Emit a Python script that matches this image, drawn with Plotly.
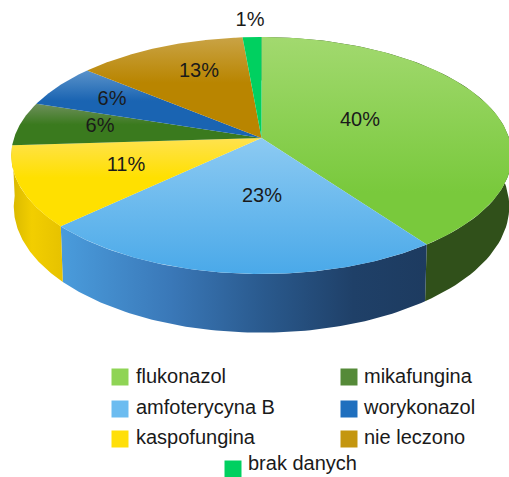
import numpy as np
import plotly.graph_objects as go

names = ["flukonazol", "amfoterycyna B", "kaspofungina", "mikafungina", "worykonazol", "nie leczono", "brak danych"]
values = [40, 23, 11, 6, 6, 12.6, 1.4]
pct_labels = ["40%", "23%", "11%", "6%", "6%", "13%", "1%"]
key_colors = ["#8fd455", "#6cbcf0", "#ffdf0a", "#558a38", "#1f6fbe", "#c4960f", "#00d060"]
top_grad = [
    ["#a2d96f", "#79c93c"],
    ["#8ccaf2", "#4aa9e9"],
    ["#ffe24f", "#ffe000"],
    ["#6f8f5c", "#3a7a1e"],
    ["#5b93ca", "#1a64b2"],
    ["#c9a345", "#b98500"],
    ["#00d060", "#00d060"],
]
grad_hold = [0.25, 0.0, 0.55, 0.5, 0.55, 0.55, 0.0]
side_grad = [
    [[0, "#30501a"], [1, "#30501a"]],
    [[0, "#4a9cdc"], [0.3, "#3a78b8"], [0.55, "#2a5a8e"], [0.8, "#1f4068"], [1, "#1d3b60"]],
    [[0, "#d8b800"], [0.4, "#f2ce00"], [1, "#e6c200"]],
]
pct_pos = [(360, 121), (262, 197), (126, 166), (112, 100), (100, 127), (199, 72), (250, 21)]
key_pos = [(120, 377), (120, 409), (120, 439), (349, 377), (349, 409), (349, 439), (233, 469)]
key_text_pos = [(136, 378), (136, 409), (136, 439), (364, 378), (364, 409), (364, 439), (248, 465)]

X0, Y0, A, B, K, DEPTH, SHRINK = 261.5, 138.0, 247.5, 115.9, 0.1477, 50.0, 0.99


def top_xy(theta):
    u, v = np.sin(theta), np.cos(theta)
    d = 1 + K * v
    return X0 + A * u / d, Y0 - B * v / d


def bottom_xy(theta):
    x, y = top_xy(theta)
    d = 1 + K * np.cos(theta)
    return X0 + SHRINK * (x - X0), y + DEPTH / d


edges = np.concatenate([[0], np.cumsum(values)]) / sum(values) * 2 * np.pi
fig = go.Figure()

# sides of the slices that face the viewer, so the top faces cover them
for i in range(len(side_grad)):
    th = np.linspace(edges[i], edges[i + 1], 80)
    tx, ty = top_xy(th)
    bx, by = bottom_xy(th[::-1])
    fig.add_trace(go.Scatter(
        x=np.concatenate([tx, bx]), y=np.concatenate([ty, by]),
        mode="lines", line=dict(width=0), fill="toself", hoverinfo="skip",
        fillgradient=dict(type="horizontal", colorscale=side_grad[i]),
    ))

for i in range(len(values)):
    th = np.linspace(edges[i], edges[i + 1], 120)
    tx, ty = top_xy(th)
    # the y axis is reversed, so the scale's 0 end lies at the lower edge of the face
    scale = [[0, top_grad[i][1]], [grad_hold[i], top_grad[i][1]], [1, top_grad[i][0]]]
    fig.add_trace(go.Scatter(
        x=np.concatenate([[X0], tx, [X0]]), y=np.concatenate([[Y0], ty, [Y0]]),
        mode="lines", line=dict(width=0), fill="toself", hoverinfo="skip",
        fillgradient=dict(type="vertical", colorscale=scale),
    ))

fig.add_trace(go.Scatter(
    x=[p[0] for p in pct_pos], y=[p[1] for p in pct_pos], text=pct_labels,
    mode="text", textposition="middle center", hoverinfo="skip",
    textfont=dict(family="Liberation Sans", size=20, color="#1a1a1a"),
))

fig.add_trace(go.Scatter(
    x=[p[0] for p in key_pos], y=[p[1] for p in key_pos],
    mode="markers", hoverinfo="skip",
    marker=dict(symbol="square", size=17, color=key_colors, line=dict(width=0)),
))
fig.add_trace(go.Scatter(
    x=[p[0] for p in key_text_pos], y=[p[1] for p in key_text_pos], text=names,
    mode="text", textposition="middle right", hoverinfo="skip",
    textfont=dict(family="Liberation Sans", size=20, color="#1a1a1a"),
))

fig.update_layout(
    width=509, height=477, margin=dict(l=0, r=0, t=0, b=0),
    paper_bgcolor="white", plot_bgcolor="white", showlegend=False,
    xaxis=dict(range=[0, 509], visible=False, fixedrange=True),
    yaxis=dict(range=[477, 0], visible=False, fixedrange=True),
)
fig.write_html("out.html", config={"displayModeBar": False},
               post_script="document.body.style.margin='0';document.documentElement.style.overflow='hidden';document.body.style.overflow='hidden';")
